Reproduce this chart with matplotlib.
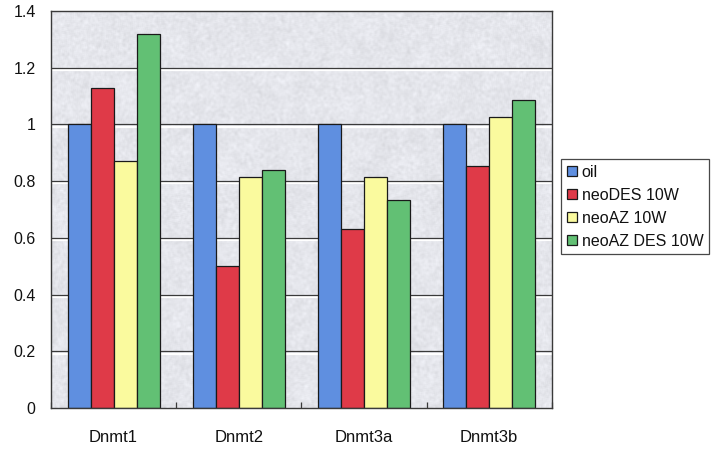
import numpy as np
import matplotlib
matplotlib.use("Agg")
import matplotlib.pyplot as plt
from matplotlib.transforms import ScaledTranslation

plt.rcParams['font.family'] = ['Liberation Sans', 'DejaVu Sans']
plt.rcParams['text.color'] = '#111111'
plt.rcParams['xtick.color'] = '#111111'
plt.rcParams['ytick.color'] = '#111111'

genes = ["Dnmt1", "Dnmt2", "Dnmt3a", "Dnmt3b"]
series_names = ["oil", "neoDES 10W", "neoAZ 10W", "neoAZ DES 10W"]
oil = [1.0, 1.0, 1.0, 1.0]
neo_des = [1.13, 0.50, 0.63, 0.855]
neo_az = [0.87, 0.815, 0.815, 1.025]
neo_az_des = [1.32, 0.84, 0.735, 1.085]
series_values = [oil, neo_des, neo_az, neo_az_des]
colors = ["#5f8fe0", "#df3a48", "#fafa9e", "#62c074"]
yticks = [0, 0.2, 0.4, 0.6, 0.8, 1, 1.2, 1.4]
ytick_labels = ["0", "0.2", "0.4", "0.6", "0.8", "1", "1.2", "1.4"]

fig = plt.figure(figsize=(7.12, 4.5), dpi=100)
ax = fig.add_axes([0.0716, 0.0933, 0.7034, 0.8823])


def box_blur(a, r):
    p = np.pad(a, r, mode="edge")
    n = 2 * r + 1
    h, w = a.shape
    return sum(p[i:i + h, j:j + w] for i in range(n) for j in range(n)) / (n * n)


# granite-like gray plot area fill: fine grain over soft blotches
rng = np.random.default_rng(7)
fine = box_blur(rng.random((400, 500)), 1)
coarse = box_blur(rng.random((400, 500)), 8)
fine = (fine - fine.min()) / (fine.max() - fine.min())
coarse = (coarse - coarse.min()) / (coarse.max() - coarse.min())
tex = 0.80 + 0.11 * fine + 0.09 * coarse
rgb = np.dstack([tex * 0.99, tex * 0.995, tex * 1.02]).clip(0, 1)
ax.imshow(rgb, extent=(0, 1, 0, 1), transform=ax.transAxes, aspect="auto",
          interpolation="bilinear", zorder=0)

x = np.arange(len(genes))
bw = 0.184
for i, (vals, col, name) in enumerate(zip(series_values, colors, series_names)):
    ax.bar(x + (i - 1.5) * bw, vals, bw, color=col, edgecolor="#1a1a1a",
           linewidth=0.9, label=name, zorder=3)

# gridlines with a light strip beneath each
shift = ScaledTranslation(0, -1.6 / 72, fig.dpi_scale_trans)
for yv in yticks[1:-1]:
    ax.plot([0, 1], [yv, yv], color="white", lw=1.6, zorder=1,
            transform=ax.get_yaxis_transform() + shift)
    ax.axhline(yv, color="#3a3a3a", lw=0.9, zorder=2)

ax.set_xlim(-0.5, len(genes) - 0.5)
ax.set_ylim(0, 1.4)
ax.set_yticks(yticks)
ax.set_yticklabels(ytick_labels)
ax.set_xticks(x)
ax.set_xticklabels(genes)
ax.set_xticks(np.arange(len(genes) + 1) - 0.5, minor=True)
ax.tick_params(axis="y", length=0, pad=11, labelsize=11.5)
ax.tick_params(axis="x", which="major", length=0, pad=16, labelsize=12)
ax.tick_params(axis="x", which="minor", direction="in", length=4, width=0.9,
               color="#3a3a3a")
for s in ax.spines.values():
    s.set_color("#3a3a3a")
    s.set_linewidth(1.0)
    s.set_zorder(4)

leg = fig.legend(loc="upper left", bbox_to_anchor=(561 / 712, 1 - 159 / 450),
                 frameon=True, fancybox=False, edgecolor="#1a1a1a",
                 fontsize=11.5, handlelength=0.65, handleheight=0.65,
                 handletextpad=0.3, labelspacing=0.5, borderpad=0.35,
                 borderaxespad=0)
leg.get_frame().set_linewidth(0.9)

fig.savefig("out.png", dpi=100, facecolor="white")
